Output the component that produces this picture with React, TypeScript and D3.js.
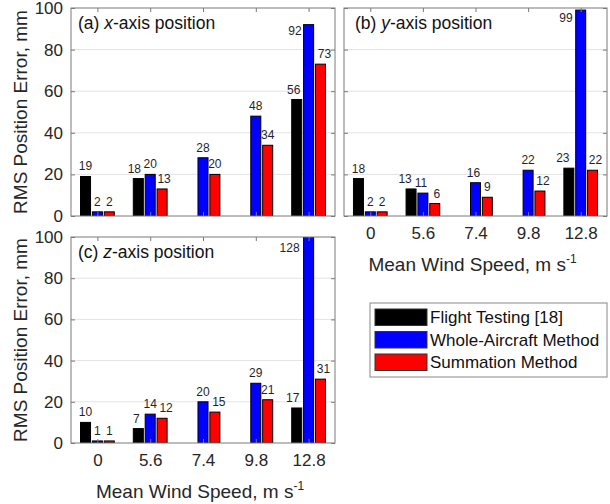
import React, { useRef, useEffect } from 'react';
import * as d3 from 'd3';

const categories = ['0', '5.6', '7.4', '9.8', '12.8'];
const seriesNames = ['Flight Testing [18]', 'Whole-Aircraft Method', 'Summation Method'];
const seriesColors = ['#000000', '#0000ff', '#ff0000'];
const yTicks = [0, 20, 40, 60, 80, 100];

const xFlight = [19, 18, 0, 0, 56];
const xWhole = [2, 20, 28, 48, 92];
const xSum = [2, 13, 20, 34, 73];

const yFlight = [18, 13, 0, 0, 23];
const yWhole = [2, 11, 16, 22, 99];
const ySum = [2, 6, 9, 12, 22];

const zFlight = [10, 7, 0, 0, 17];
const zWhole = [1, 14, 20, 29, 128];
const zSum = [1, 12, 15, 21, 31];

const FONT = '"Liberation Sans", Arial, sans-serif';

// label nudges [dx, dy, anchor] keyed "panel-series-category"
const nudges: Record<string, [number, number, string]> = {
  'a-0-1': [-4, 0, 'middle'],
  'a-2-1': [2, 0, 'middle'],
  'a-1-4': [-2, 16, 'end'],
  'a-2-4': [4, 0, 'middle'],
  'a-0-4': [-3, 0, 'middle'],
  'b-0-1': [-6, 0, 'middle'],
  'b-1-1': [-2, 0, 'middle'],
  'b-2-1': [2, 0, 'middle'],
  'b-1-2': [-2, 0, 'middle'],
  'b-2-3': [3, 0, 'middle'],
  'b-0-4': [-6, 0, 'middle'],
  'b-1-4': [-3, 18, 'end'],
  'b-2-4': [3, 0, 'middle'],
  'c-0-1': [-2, 0, 'middle'],
  'c-2-1': [4, 0, 'middle'],
  'c-2-2': [4, 0, 'middle'],
  'c-0-4': [-4, 0, 'middle'],
  'c-1-4': [-4, 21, 'end'],
  'c-2-4': [3, 0, 'middle'],
};

export default function App() {
  const ref = useRef<SVGSVGElement>(null);
  useEffect(() => {
    const svg = d3.select(ref.current);
    svg.selectAll('*').remove();

    const panels = [
      { id: 'a', axis: 'x', series: [xFlight, xWhole, xSum], x0: 71, x1: 335, y0: 8, y1: 216, yLabels: true, xLabels: false },
      { id: 'b', axis: 'y', series: [yFlight, yWhole, ySum], x0: 344, x1: 607, y0: 8, y1: 216, yLabels: false, xLabels: true },
      { id: 'c', axis: 'z', series: [zFlight, zWhole, zSum], x0: 71, x1: 335, y0: 237, y1: 443, yLabels: true, xLabels: true },
    ];

    panels.forEach(p => {
      const x = d3.scaleLinear().domain([0.5, 5.5]).range([p.x0, p.x1]);
      const y = d3.scaleLinear().domain([0, 100]).range([p.y1, p.y0]);
      const g = svg.append('g');

      g.append('rect')
        .attr('x', p.x0).attr('y', p.y0)
        .attr('width', p.x1 - p.x0).attr('height', p.y1 - p.y0)
        .attr('fill', '#fff');

      g.selectAll('line.grid')
        .data(yTicks.filter(t => t > 0 && t < 100))
        .enter().append('line')
        .attr('x1', p.x0).attr('x2', p.x1)
        .attr('y1', d => y(d)).attr('y2', d => y(d))
        .attr('stroke', '#e3e3e3').attr('stroke-width', 1);

      const clipId = 'clip-' + p.id;
      g.append('clipPath').attr('id', clipId)
        .append('rect')
        .attr('x', p.x0).attr('y', p.y0)
        .attr('width', p.x1 - p.x0).attr('height', p.y1 - p.y0);

      const bw = 0.19;
      const off = 0.225;
      const bars = g.append('g').attr('clip-path', `url(#${clipId})`);
      p.series.forEach((vals, s) => {
        vals.forEach((v, i) => {
          const cx = i + 1 + (s - 1) * off;
          bars.append('rect')
            .attr('x', x(cx - bw / 2))
            .attr('width', x(cx + bw / 2) - x(cx - bw / 2))
            .attr('y', y(v))
            .attr('height', y(0) - y(v))
            .attr('fill', seriesColors[s])
            .attr('stroke', '#000')
            .attr('stroke-width', 1);
        });
      });

      const axisColor = '#7a7a7a';
      const styleAxis = (sel: any) => {
        sel.select('.domain').remove();
        sel.selectAll('line').attr('stroke', axisColor);
        sel.selectAll('text').attr('font-family', FONT).attr('font-size', 17).attr('fill', '#262626');
      };

      const left = d3.axisLeft(y).tickValues(yTicks).tickSize(-4).tickPadding(8);
      if (!p.yLabels) left.tickFormat(() => '');
      g.append('g').attr('transform', `translate(${p.x0},0)`).call(left).call(styleAxis);
      g.append('g').attr('transform', `translate(${p.x1},0)`)
        .call(d3.axisRight(y).tickValues(yTicks).tickSize(-4).tickFormat(() => '')).call(styleAxis);

      const catIdx = categories.map((_, i) => i + 1);
      const bottom = d3.axisBottom(x).tickValues(catIdx).tickSize(-4).tickPadding(11)
        .tickFormat((d: any) => (p.xLabels ? categories[d - 1] : ''));
      g.append('g').attr('transform', `translate(0,${p.y1})`).call(bottom).call(styleAxis);
      g.append('g').attr('transform', `translate(0,${p.y0})`)
        .call(d3.axisTop(x).tickValues(catIdx).tickSize(-4).tickFormat(() => '')).call(styleAxis);

      g.append('rect')
        .attr('x', p.x0).attr('y', p.y0)
        .attr('width', p.x1 - p.x0).attr('height', p.y1 - p.y0)
        .attr('fill', 'none').attr('stroke', axisColor).attr('stroke-width', 1);

      // value labels on top of everything
      p.series.forEach((vals, s) => {
        vals.forEach((v, i) => {
          if (v === 0) return;
          const cx = i + 1 + (s - 1) * off;
          const n = nudges[`${p.id}-${s}-${i}`] || [0, 0, 'middle'];
          const px = n[2] === 'end' ? x(cx - bw / 2) : x(cx);
          const py = y(Math.min(v, 100)) - 6;
          g.append('text')
            .attr('x', px + n[0])
            .attr('y', py + n[1])
            .attr('text-anchor', n[2])
            .attr('font-family', FONT)
            .attr('font-size', 12)
            .attr('fill', '#1f1f2f')
            .text(v);
        });
      });

      const title = g.append('text')
        .attr('x', p.x0 + 7 + (p.id === 'b' ? 4 : 0))
        .attr('y', p.y0 + 21)
        .attr('font-family', FONT).attr('font-size', 17.5).attr('fill', '#111');
      title.append('tspan').text(`(${p.id}) `);
      title.append('tspan').attr('font-style', 'italic').text(p.axis);
      title.append('tspan').text('-axis position');

      if (p.yLabels) {
        g.append('text')
          .attr('transform', `translate(20,${(p.y0 + p.y1) / 2}) rotate(-90)`)
          .attr('text-anchor', 'middle')
          .attr('dy', '0.35em')
          .attr('font-family', FONT).attr('font-size', 19).attr('fill', '#262626')
          .text('RMS Position Error, mm');
      }
      if (p.xLabels) {
        const t = g.append('text')
          .attr('x', (p.x0 + p.x1) / 2 - 3)
          .attr('y', p.y1 + 55)
          .attr('text-anchor', 'middle')
          .attr('font-family', FONT).attr('font-size', 19).attr('fill', '#262626');
        t.append('tspan').text('Mean Wind Speed, m s');
        t.append('tspan').attr('dy', -8).attr('font-size', 12).text('-1');
      }
    });

    const lg = svg.append('g');
    lg.append('rect')
      .attr('x', 370).attr('y', 303).attr('width', 237).attr('height', 74)
      .attr('fill', '#fff').attr('stroke', '#888');
    seriesNames.forEach((name, s) => {
      const ry = 309 + s * 22.5;
      lg.append('rect')
        .attr('x', 375).attr('y', ry).attr('width', 52).attr('height', 16.5)
        .attr('fill', seriesColors[s]).attr('stroke', '#333');
      lg.append('text')
        .attr('x', 430).attr('y', ry + 8.5).attr('dy', '0.35em')
        .attr('font-family', FONT).attr('font-size', 17).attr('fill', '#111')
        .text(name);
    });
  }, []);
  return <svg ref={ref} width={610} height={504} style={{ position: 'absolute', left: 0, top: 0, background: '#fff' }} />;
}
